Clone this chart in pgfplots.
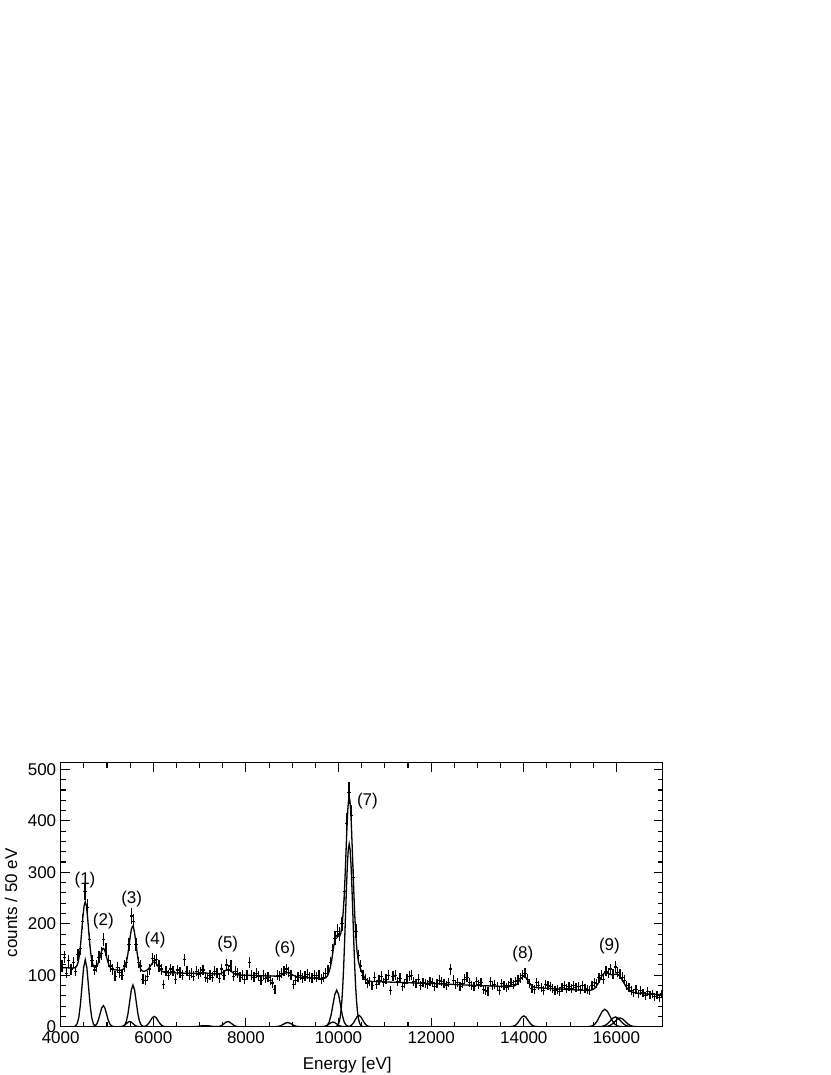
\documentclass[border=0pt]{standalone}
\usepackage{fontspec}
\setmainfont{Liberation Sans}
\usepackage{pgfplots}
\usepackage{pgfplotstable}
\pgfplotsset{compat=1.18}
\pgfplotstableread{
E c e
4025 118 10.9
4075 135 11.6
4125 104 10.2
4175 128 11.3
4225 112 10.6
4275 125 11.2
4325 108 10.4
4375 140 11.8
4425 152 12.3
4475 205 14.3
4525 262 16.2
4575 232 15.2
4625 170 13.0
4675 128 11.3
4725 110 10.5
4775 118 10.9
4825 135 11.6
4875 142 11.9
4925 170 13.0
4975 150 12.2
5025 128 11.3
5075 118 10.9
5125 112 10.6
5175 98 9.9
5225 115 10.7
5275 105 10.2
5325 100 10.0
5375 118 10.9
5425 125 11.2
5475 160 12.6
5525 215 14.7
5575 205 14.3
5625 160 12.6
5675 125 11.2
5725 118 10.9
5775 92 9.6
5825 90 9.5
5875 98 9.9
5925 112 10.6
5975 132 11.5
6025 128 11.3
6075 130 11.4
6125 118 10.9
6175 112 10.6
6225 82 9.1
6275 108 10.4
6325 100 10.0
6375 112 10.6
6425 108 10.4
6475 92 9.6
6525 110 10.5
6575 105 10.2
6625 100 10.0
6675 130 11.4
6725 108 10.4
6775 100 10.0
6825 104 10.2
6875 98 9.9
6925 108 10.4
6975 102 10.1
7025 106 10.3
7075 110 10.5
7125 96 9.8
7175 94 9.7
7225 100 10.0
7275 96 9.8
7325 108 10.4
7375 104 10.2
7425 94 9.7
7475 112 10.6
7525 100 10.0
7575 120 11.0
7625 110 10.5
7675 118 10.9
7725 98 9.9
7775 108 10.4
7825 104 10.2
7875 96 9.8
7925 100 10.0
7975 92 9.6
8025 100 10.0
8075 125 11.2
8125 100 10.0
8175 96 9.8
8225 104 10.2
8275 98 9.9
8325 90 9.5
8375 100 10.0
8425 94 9.7
8475 96 9.8
8525 90 9.5
8575 85 9.2
8625 72 8.5
8675 100 10.0
8725 98 9.9
8775 104 10.2
8825 108 10.4
8875 112 10.6
8925 106 10.3
8975 100 10.0
9025 82 9.1
9075 90 9.5
9125 96 9.8
9175 100 10.0
9225 94 9.7
9275 98 9.9
9325 102 10.1
9375 96 9.8
9425 94 9.7
9475 100 10.0
9525 96 9.8
9575 100 10.0
9625 92 9.6
9675 96 9.8
9725 104 10.2
9775 110 10.5
9825 125 11.2
9875 148 12.2
9925 172 13.1
9975 185 13.6
10025 180 13.4
10075 200 14.1
10125 262 16.2
10175 395 19.9
10225 455 21.3
10275 410 20.2
10325 290 17.0
10375 185 13.6
10425 138 11.7
10475 118 10.9
10525 100 10.0
10575 92 9.6
10625 85 9.2
10675 88 9.4
10725 80 8.9
10775 96 9.8
10825 82 9.1
10875 90 9.5
10925 98 9.9
10975 86 9.3
11025 92 9.6
11075 100 10.0
11125 70 8.4
11175 98 9.9
11225 100 10.0
11275 88 9.4
11325 94 9.7
11375 78 8.8
11425 84 9.2
11475 92 9.6
11525 98 9.9
11575 100 10.0
11625 88 9.4
11675 84 9.2
11725 92 9.6
11775 80 8.9
11825 86 9.3
11875 84 9.2
11925 82 9.1
11975 88 9.4
12025 86 9.3
12075 78 8.8
12125 84 9.2
12175 90 9.5
12225 88 9.4
12275 84 9.2
12325 80 8.9
12375 86 9.3
12425 112 10.6
12475 90 9.5
12525 82 9.1
12575 86 9.3
12625 78 8.8
12675 84 9.2
12725 92 9.6
12775 96 9.8
12825 86 9.3
12875 80 8.9
12925 78 8.8
12975 88 9.4
13025 82 9.1
13075 86 9.3
13125 72 8.5
13175 70 8.4
13225 68 8.2
13275 88 9.4
13325 80 8.9
13375 82 9.1
13425 78 8.8
13475 70 8.4
13525 84 9.2
13575 80 8.9
13625 76 8.7
13675 80 8.9
13725 86 9.3
13775 82 9.1
13825 88 9.4
13875 90 9.5
13925 94 9.7
13975 100 10.0
14025 104 10.2
14075 92 9.6
14125 84 9.2
14175 74 8.6
14225 72 8.5
14275 86 9.3
14325 80 8.9
14375 76 8.7
14425 70 8.4
14475 82 9.1
14525 80 8.9
14575 78 8.8
14625 74 8.6
14675 70 8.4
14725 72 8.5
14775 68 8.2
14825 76 8.7
14875 80 8.9
14925 74 8.6
14975 78 8.8
15025 74 8.6
15075 80 8.9
15125 76 8.7
15175 78 8.8
15225 72 8.5
15275 80 8.9
15325 74 8.6
15375 72 8.5
15425 70 8.4
15475 80 8.9
15525 86 9.3
15575 84 9.2
15625 95 9.7
15675 100 10.0
15725 92 9.6
15775 108 10.4
15825 104 10.2
15875 112 10.6
15925 102 10.1
15975 116 10.8
16025 106 10.3
16075 102 10.1
16125 96 9.8
16175 90 9.5
16225 80 8.9
16275 76 8.7
16325 70 8.4
16375 66 8.1
16425 72 8.5
16475 64 8.0
16525 70 8.4
16575 66 8.1
16625 60 7.7
16675 68 8.2
16725 62 7.9
16775 64 8.0
16825 58 7.6
16875 62 7.9
16925 56 7.5
16975 64 8.0
}\spectrum
\begin{document}
\begin{tikzpicture}[
  peak/.style={font=\fontsize{17}{20}\selectfont, anchor=center},
  comp/.style={black, line width=1.3pt},
]
\useasboundingbox (0,0) rectangle (830pt,1075pt);
\begin{axis}[
  at={(60.7pt,48.3pt)}, anchor=south west,
  scale only axis, width=602pt, height=264pt,
  xmin=4000, xmax=17000, ymin=0, ymax=513,
  xtick={4000,6000,...,16000}, minor x tick num=3,
  ytick={0,100,...,500}, minor y tick num=4,
  tick align=inside, major tick length=9pt, minor tick length=5pt,
  axis line style={line width=1.3pt},
  every tick/.style={black, line width=1.1pt},
  scaled ticks=false,
  /pgf/number format/1000 sep={},
  /pgf/number format/assume math mode=true,
  tick label style={font=\fontsize{17}{20}\selectfont},
  yticklabel style={xshift=-1pt},
  xticklabel style={yshift=-1pt},
  label style={font=\fontsize{17}{20}\selectfont},
  xlabel={Energy [eV]},
  xlabel style={at={(axis description cs:0.476,-0.162)}, anchor=base},
  ylabel={counts / 50 eV},
  ylabel style={at={(axis description cs:-0.0826,0.469)}, anchor=center},
]
% data points
\addplot[black, only marks, mark=-, mark size=1.6pt, mark options={line width=1.2pt},
  error bars/.cd, y dir=both, y explicit, error mark=none,
  error bar style={line width=1.3pt}]
  table[x=E, y=c, y error=e] {\spectrum};
% total fit
\addplot[black, line width=1.3pt] coordinates {
(4000,115) (4100,114.6) (4200,114.2) (4280,114.1) (4305,114.5) (4330,115.9) (4355,119.3) (4380,126.6) (4405,139.8) (4430,160.1) (4455,186.4) (4480,213.9) (4505,234.9) (4530,242.9) (4555,234.7) (4580,213.5) (4605,185.8) (4630,159.3) (4655,138.8) (4680,125.4) (4705,118.3) (4730,115.3) (4755,115.2) (4780,117.6) (4805,122.4) (4830,129.6) (4855,138.2) (4880,146.3) (4905,151.5) (4920,152.3) (4945,149.7) (4970,142.9) (4995,134.1) (5020,125.7) (5045,119.1) (5070,114.8) (5095,112.4) (5120,111.2) (5150,110.6) (5250,109.8) (5300,109.8) (5350,111.5) (5375,114.2) (5400,119.3) (5425,128.0) (5450,140.8) (5475,157.1) (5500,174.5) (5525,188.7) (5550,195.4) (5560,195.3) (5575,192.0) (5600,179.7) (5625,162.2) (5650,143.9) (5675,128.9) (5700,118.5) (5725,112.4) (5750,109.3) (5775,108.0) (5800,107.7) (5850,108.9) (5900,113.0) (5950,119.9) (6000,125.4) (6020,126.0) (6050,124.5) (6100,117.8) (6150,110.9) (6200,107.0) (6250,105.6) (6300,105.1) (6500,104.5) (6800,103.6) (7000,103.6) (7120,104.6) (7240,102.9) (7400,102.1) (7450,103.0) (7500,105.4) (7550,108.9) (7600,111.1) (7650,109.9) (7700,106.2) (7750,102.9) (7800,101.2) (7850,100.5) (8000,100) (8300,99.1) (8650,98.2) (8700,98.6) (8750,99.75) (8800,101.9) (8850,104.3) (8900,105.3) (8950,104.0) (9000,101.3) (9050,98.7) (9100,97.1) (9150,96.3) (9200,95.9) (9400,94.7) (9600,93.6) (9650,93.5) (9700,94.1) (9725,95.2) (9750,97.4) (9775,101.3) (9800,107.6) (9825,116.6) (9850,128.3) (9875,143) (9900,158) (9925,170) (9950,176) (9975,178) (10000,176) (10025,176) (10050,182) (10075,196) (10100,222) (10125,258) (10150,312) (10175,373.0) (10200,422.2) (10215,439.6) (10230,446.3) (10245,440.2) (10260,422.9) (10275,395.8) (10300,336.9) (10325,273.1) (10350,216.7) (10375,173.9) (10400,146.0) (10425,129.2) (10450,119.2) (10475,112.4) (10500,106.8) (10525,101.8) (10550,97.4) (10575,93.9) (10600,91.5) (10625,89.9) (10650,88.95) (10700,88.1) (11300,86) (12000,84) (13000,80) (13700,78.0) (13750,78.2) (13800,79.4) (13850,82.7) (13900,88.6) (13950,95.15) (14000,98) (14050,94.75) (14100,87.8) (14150,81.45) (14200,77.8) (14250,76.2) (14300,75.6) (15000,72) (15350,70.6) (15400,70.6) (15450,71.0) (15500,72.6) (15550,76.3) (15600,83.0) (15650,92.1) (15700,100.6) (15750,105.2) (15800,105.1) (15850,102.3) (15900,100.8) (15950,101.3) (16000,102.3) (16050,100.3) (16100,94.8) (16150,86.9) (16200,79.0) (16250,72.7) (16300,68.8) (16350,66.75) (16400,65.75) (16450,65.2) (16500,64.75) (16600,64) (17000,62)
};
% components
\addplot[comp] coordinates {(4285,0) (4320,1.4) (4355,5.7) (4390,17.6) (4425,42.2) (4460,78.8) (4495,114.7) (4530,130) (4565,114.7) (4600,78.8) (4635,42.2) (4670,17.6) (4705,5.7) (4740,1.4) (4775,0)};
\addplot[comp] coordinates {(4675,0) (4710,0.5) (4745,1.8) (4780,5.5) (4815,13.3) (4850,24.9) (4885,36.2) (4920,41) (4955,36.2) (4990,24.9) (5025,13.3) (5060,5.5) (5095,1.8) (5130,0.5) (5165,0)};
\addplot[comp] coordinates {(5245,0) (5280,0.1) (5315,0.4) (5350,1.4) (5385,3.2) (5420,6.1) (5455,8.8) (5490,10) (5525,8.8) (5560,6.1) (5595,3.2) (5630,1.4) (5665,0.4) (5700,0.1) (5735,0)};
\addplot[comp] coordinates {(5315,0) (5350,0.9) (5385,3.6) (5420,11.0) (5455,26.3) (5490,49.1) (5525,71.5) (5560,81) (5595,71.5) (5630,49.1) (5665,26.3) (5700,11.0) (5735,3.6) (5770,0.9) (5805,0)};
\addplot[comp] coordinates {(5740,0) (5780,0.2) (5820,0.9) (5860,2.7) (5900,6.5) (5940,12.1) (5980,17.7) (6020,20) (6060,17.7) (6100,12.1) (6140,6.5) (6180,2.7) (6220,0.9) (6260,0.2) (6300,0)};
\addplot[comp] coordinates {(6840,0) (6920,0.3) (6960,0.6) (7000,1.2) (7040,1.6) (7080,1.9) (7120,2) (7160,1.9) (7200,1.6) (7240,1.2) (7280,0.6) (7320,0.3) (7400,0)};
\addplot[comp] coordinates {(7330,0) (7370,0.1) (7410,0.4) (7450,1.4) (7490,3.2) (7530,6.1) (7570,8.8) (7610,10) (7650,8.8) (7690,6.1) (7730,3.2) (7770,1.4) (7810,0.4) (7850,0.1) (7890,0)};
\addplot[comp] coordinates {(8585,0) (8630,0.1) (8675,0.35) (8720,1.1) (8765,2.6) (8810,4.85) (8855,7.06) (8900,8) (8945,7.06) (8990,4.85) (9035,2.6) (9080,1.1) (9125,0.35) (9170,0.1) (9215,0)};
\addplot[comp] coordinates {(9600,0) (9640,0.1) (9680,0.4) (9720,1.2) (9760,2.9) (9800,5.5) (9840,7.9) (9880,9) (9920,7.9) (9960,5.5) (10000,2.9) (10040,1.2) (10080,0.4) (10120,0.1) (10160,0)};
\addplot[comp] coordinates {(9680,0) (9720,0.8) (9760,3.1) (9800,9.6) (9840,23.1) (9880,43.1) (9920,62.7) (9960,71) (10000,62.7) (10040,43.1) (10080,23.1) (10120,9.6) (10160,3.1) (10200,0.8) (10240,0)};
\addplot[comp] coordinates {(9930,0) (9950,0.8) (9970,1.8) (9990,3.9) (10010,8.1) (10030,15.6) (10050,28.3) (10070,48.0) (10090,76.8) (10110,115.3) (10130,162.5) (10150,215.3) (10170,268.0) (10190,313.3) (10210,344.1) (10230,355) (10250,344.1) (10270,313.3) (10290,268.0) (10310,215.3) (10330,162.5) (10350,115.3) (10370,76.8) (10390,48.0) (10410,28.3) (10430,15.6) (10450,8.1) (10470,3.9) (10490,1.8) (10510,0.8) (10530,0)};
\addplot[comp] coordinates {(10160,0) (10200,0.24) (10240,1.0) (10280,3.0) (10320,7.1) (10360,13.3) (10400,19.4) (10440,22) (10480,19.4) (10520,13.3) (10560,7.1) (10600,3.0) (10640,1.0) (10680,0.24) (10720,0)};
\addplot[comp] coordinates {(13685,0) (13730,0.23) (13775,0.92) (13820,2.8) (13865,6.8) (13910,12.7) (13955,18.5) (14000,21) (14045,18.5) (14090,12.7) (14135,6.8) (14180,2.8) (14225,0.92) (14270,0.23) (14315,0)};
\addplot[comp] coordinates {(15365,0) (15420,0.38) (15475,1.5) (15530,4.6) (15585,11.0) (15640,20.6) (15695,30.0) (15750,34) (15805,30.0) (15860,20.6) (15915,11.0) (15970,4.6) (16025,1.5) (16080,0.38) (16135,0)};
\addplot[comp] coordinates {(15595,0) (15650,0.21) (15705,0.83) (15760,2.6) (15815,6.2) (15870,11.5) (15925,16.8) (15980,19) (16035,16.8) (16090,11.5) (16145,6.2) (16200,2.6) (16255,0.83) (16310,0.21) (16365,0)};
\addplot[comp] coordinates {(15695,0) (15750,0.19) (15805,0.75) (15860,2.3) (15915,5.5) (15970,10.3) (16025,15.0) (16080,17) (16135,15.0) (16190,10.3) (16245,5.5) (16300,2.3) (16355,0.75) (16410,0.19) (16465,0)};
% peak labels
\node[peak] at (axis cs:4525,285) {(1)};
\node[peak] at (axis cs:4920,206) {(2)};
\node[peak] at (axis cs:5533,248) {(3)};
\node[peak] at (axis cs:6037,169) {(4)};
\node[peak] at (axis cs:7607,161) {(5)};
\node[peak] at (axis cs:8845,151) {(6)};
\node[peak] at (axis cs:10623,438) {(7)};
\node[peak] at (axis cs:13980,141) {(8)};
\node[peak] at (axis cs:15850,157) {(9)};
\end{axis}
\end{tikzpicture}
\end{document}
